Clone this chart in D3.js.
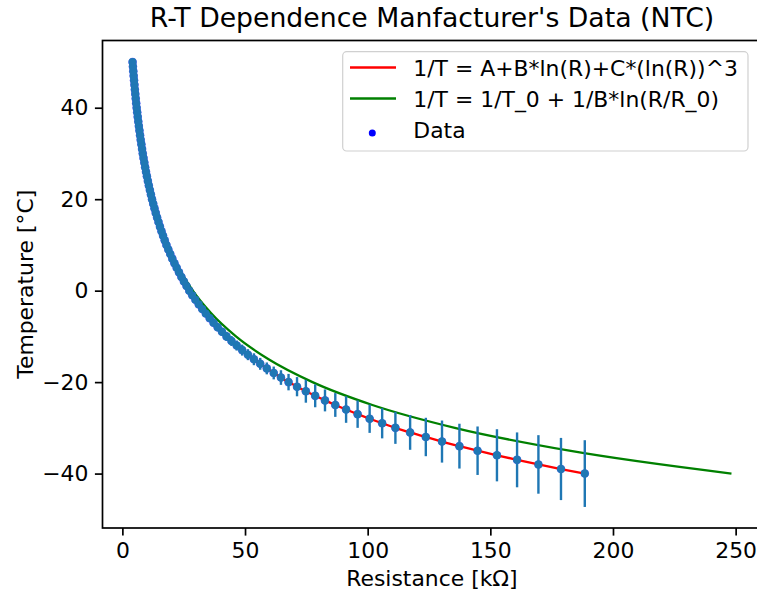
<!DOCTYPE html>
<html>
<head>
<meta charset="utf-8">
<script src="https://cdn.jsdelivr.net/npm/d3@7"></script>
<style>
  body { margin: 0; background: #fff; }
  text { font-family: "DejaVu Sans", sans-serif; fill: #000; }
</style>
</head>
<body>
<script>
// manufacturer table: temperature [°C] and resistance [kΩ]
var tempC = [-40, -39, -38, -37, -36, -35, -34, -33, -32, -31,
  -30, -29, -28, -27, -26, -25, -24, -23, -22, -21,
  -20, -19, -18, -17, -16, -15, -14, -13, -12, -11,
  -10, -9, -8, -7, -6, -5, -4, -3, -2, -1,
  0, 1, 2, 3, 4, 5, 6, 7, 8, 9,
  10, 11, 12, 13, 14, 15, 16, 17, 18, 19,
  20, 21, 22, 23, 24, 25, 26, 27, 28, 29,
  30, 31, 32, 33, 34, 35, 36, 37, 38, 39,
  40, 41, 42, 43, 44, 45, 46, 47, 48, 49, 50];

var resK = [188.5, 178.8, 169.6, 160.9, 152.7, 144.8, 137.4, 130.3, 123.7, 117.3,
  111.3, 105.9, 100.8, 95.9, 91.2, 86.8, 82.6, 78.6, 74.8, 71.2,
  67.74, 64.65, 61.70, 58.88, 56.19, 53.63, 51.18, 48.84, 46.61, 44.48,
  42.45, 40.61, 38.85, 37.17, 35.56, 34.02, 32.55, 31.14, 29.79, 28.50,
  27.28, 26.16, 25.09, 24.07, 23.08, 22.14, 21.23, 20.36, 19.53, 18.73,
  17.96, 17.26, 16.59, 15.95, 15.33, 14.73, 14.16, 13.61, 13.08, 12.58,
  12.09, 11.64, 11.21, 10.79, 10.39, 10.00, 9.637, 9.288, 8.951, 8.626,
  8.313, 8.023, 7.743, 7.473, 7.213, 6.961, 6.718, 6.484, 6.258, 6.040,
  5.828, 5.635, 5.448, 5.267, 5.093, 4.924, 4.761, 4.603, 4.451, 4.303, 4.161];

// temperature error bars [°C]
var tempErr = [7.3, 6.8, 6.4, 6.0, 5.7, 5.3, 4.9, 4.6, 4.2, 3.8,
  3.5, 3.3, 3.1, 3.0, 2.9, 2.6, 2.4, 2.5, 2.5, 2.1,
  1.8, 1.6, 1.4, 1.3, 1.3, 1.3, 1.2, 1.2, 1.1, 1.1,
  1.0, 0.9, 0.9, 0.8, 0.8, 0.7, 0.7, 0.6, 0.6, 0.5,
  0.5, 0.4, 0.4, 0.4, 0.4, 0.4, 0.4, 0.4, 0.4, 0.4,
  0.4, 0.3, 0.3, 0.3, 0.3, 0.3, 0.3, 0.3, 0.3, 0.3,
  0.3, 0.2, 0.2, 0.2, 0.2, 0.2, 0.2, 0.2, 0.2, 0.2,
  0.2, 0.2, 0.2, 0.2, 0.2, 0.2, 0.2, 0.2, 0.2, 0.2,
  0.2, 0.2, 0.2, 0.2, 0.2, 0.2, 0.2, 0.2, 0.2, 0.2, 0.2];

// beta model curve (green)
var betaT = [-40, -35, -30, -25, -20, -15, -10, -5, 0, 5, 10, 15, 20, 25, 30, 35, 40, 45, 50];
var betaR = [248.3, 182.2, 135.5, 101.9, 77.5, 59.6, 46.3, 36.3, 28.71, 22.90, 18.41, 14.92, 12.17, 10.0, 8.27, 6.88, 5.76, 4.85, 4.10];

var xTicks = [0, 50, 100, 150, 200, 250];
var yTicks = [-40, -20, 0, 20, 40];

var legendLabels = ["1/T = A+B*ln(R)+C*(ln(R))^3", "1/T = 1/T_0 + 1/B*ln(R/R_0)", "Data"];

var W = 757, H = 595;
var pL = 102.5, pR = 761.4, pT = 40.5, pB = 528;
var fs = 21.9;

var svg = d3.select("body").append("svg")
    .attr("width", W)
    .attr("height", H);

svg.append("rect").attr("width", W).attr("height", H).attr("fill", "#fff");

var x = d3.scaleLinear().domain([-8.1, 260.5]).range([pL, pR]);
var y = d3.scaleLinear().domain([-51.9, 54.7]).range([pB, pT]);

var pts = tempC.map(function (t, i) { return { t: t, r: resK[i], e: tempErr[i] }; });
var beta = betaT.map(function (t, i) { return { t: t, r: betaR[i] }; });

var plot = svg.append("g");

// scatter "Data" underneath
plot.append("g").selectAll("circle")
    .data(pts)
    .enter().append("circle")
    .attr("cx", function (d) { return x(d.r); })
    .attr("cy", function (d) { return y(d.t); })
    .attr("r", 4.3)
    .attr("fill", "#0000ff")
    .attr("fill-opacity", 0.6);

var line = d3.line()
    .x(function (d) { return x(d.r); })
    .y(function (d) { return y(d.t); })
    .curve(d3.curveMonotoneX);

// fitted Steinhart-Hart curve
plot.append("path")
    .datum(pts.slice().sort(function (a, b) { return a.r - b.r; }))
    .attr("d", line)
    .attr("fill", "none")
    .attr("stroke", "#ff0000")
    .attr("stroke-width", 2.3);

// beta model curve
plot.append("path")
    .datum(beta.slice().sort(function (a, b) { return a.r - b.r; }))
    .attr("d", line)
    .attr("fill", "none")
    .attr("stroke", "#008000")
    .attr("stroke-width", 2.3);

// error bars
plot.append("g").selectAll("line")
    .data(pts)
    .enter().append("line")
    .attr("x1", function (d) { return x(d.r); })
    .attr("x2", function (d) { return x(d.r); })
    .attr("y1", function (d) { return y(d.t - d.e); })
    .attr("y2", function (d) { return y(d.t + d.e); })
    .attr("stroke", "#1f77b4")
    .attr("stroke-width", 2.4);

plot.append("g").selectAll("circle")
    .data(pts)
    .enter().append("circle")
    .attr("cx", function (d) { return x(d.r); })
    .attr("cy", function (d) { return y(d.t); })
    .attr("r", 4)
    .attr("fill", "#1f77b4");

// axes
var xAxis = svg.append("g")
    .attr("transform", "translate(0," + pB + ")")
    .call(d3.axisBottom(x).tickValues(xTicks).tickSize(7.6).tickPadding(6.5));
var yAxis = svg.append("g")
    .attr("transform", "translate(" + pL + ",0)")
    .call(d3.axisLeft(y).tickValues(yTicks).tickSize(7.6).tickPadding(6.5));

[xAxis, yAxis].forEach(function (a) {
    a.select(".domain").remove();
    a.selectAll(".tick line").attr("stroke", "#000").attr("stroke-width", 1.7);
    a.selectAll(".tick text")
        .attr("font-family", "DejaVu Sans")
        .attr("font-size", fs)
        .attr("fill", "#000");
});

// frame (right side falls outside the picture)
svg.append("rect")
    .attr("x", pL).attr("y", pT)
    .attr("width", pR - pL).attr("height", pB - pT)
    .attr("fill", "none")
    .attr("stroke", "#000")
    .attr("stroke-width", 1.7);

// labels
svg.append("text")
    .attr("x", (pL + pR) / 2).attr("y", 27)
    .attr("text-anchor", "middle")
    .attr("font-size", 26.7)
    .text("R-T Dependence Manfacturer's Data (NTC)");

svg.append("text")
    .attr("x", (pL + pR) / 2).attr("y", 586)
    .attr("text-anchor", "middle")
    .attr("font-size", fs)
    .text("Resistance [kΩ]");

svg.append("text")
    .attr("transform", "translate(33," + (pT + pB) / 2 + ") rotate(-90)")
    .attr("text-anchor", "middle")
    .attr("font-size", fs)
    .text("Temperature [°C]");

// legend
var lg = svg.append("g");
lg.append("rect")
    .attr("x", 342.7).attr("y", 51.7)
    .attr("width", 405.3).attr("height", 99.3)
    .attr("rx", 4).attr("ry", 4)
    .attr("fill", "#fff").attr("fill-opacity", 0.8)
    .attr("stroke", "#d0d0d0").attr("stroke-width", 1.2);

var rowY = [67.5, 98.5, 129.5];
var legendColors = ["#ff0000", "#008000", "#0000ff"];
legendLabels.forEach(function (lab, i) {
    if (i < 2) {
        lg.append("line")
            .attr("x1", 350).attr("x2", 396)
            .attr("y1", rowY[i]).attr("y2", rowY[i])
            .attr("stroke", legendColors[i])
            .attr("stroke-width", 2.3);
    } else {
        lg.append("circle")
            .attr("cx", 372.3).attr("cy", rowY[i] + 3.5)
            .attr("r", 3.5)
            .attr("fill", legendColors[i]);
    }
    lg.append("text")
        .attr("x", 413.3).attr("y", rowY[i] + 8)
        .attr("font-size", fs)
        .text(lab);
});
</script>
</body>
</html>
